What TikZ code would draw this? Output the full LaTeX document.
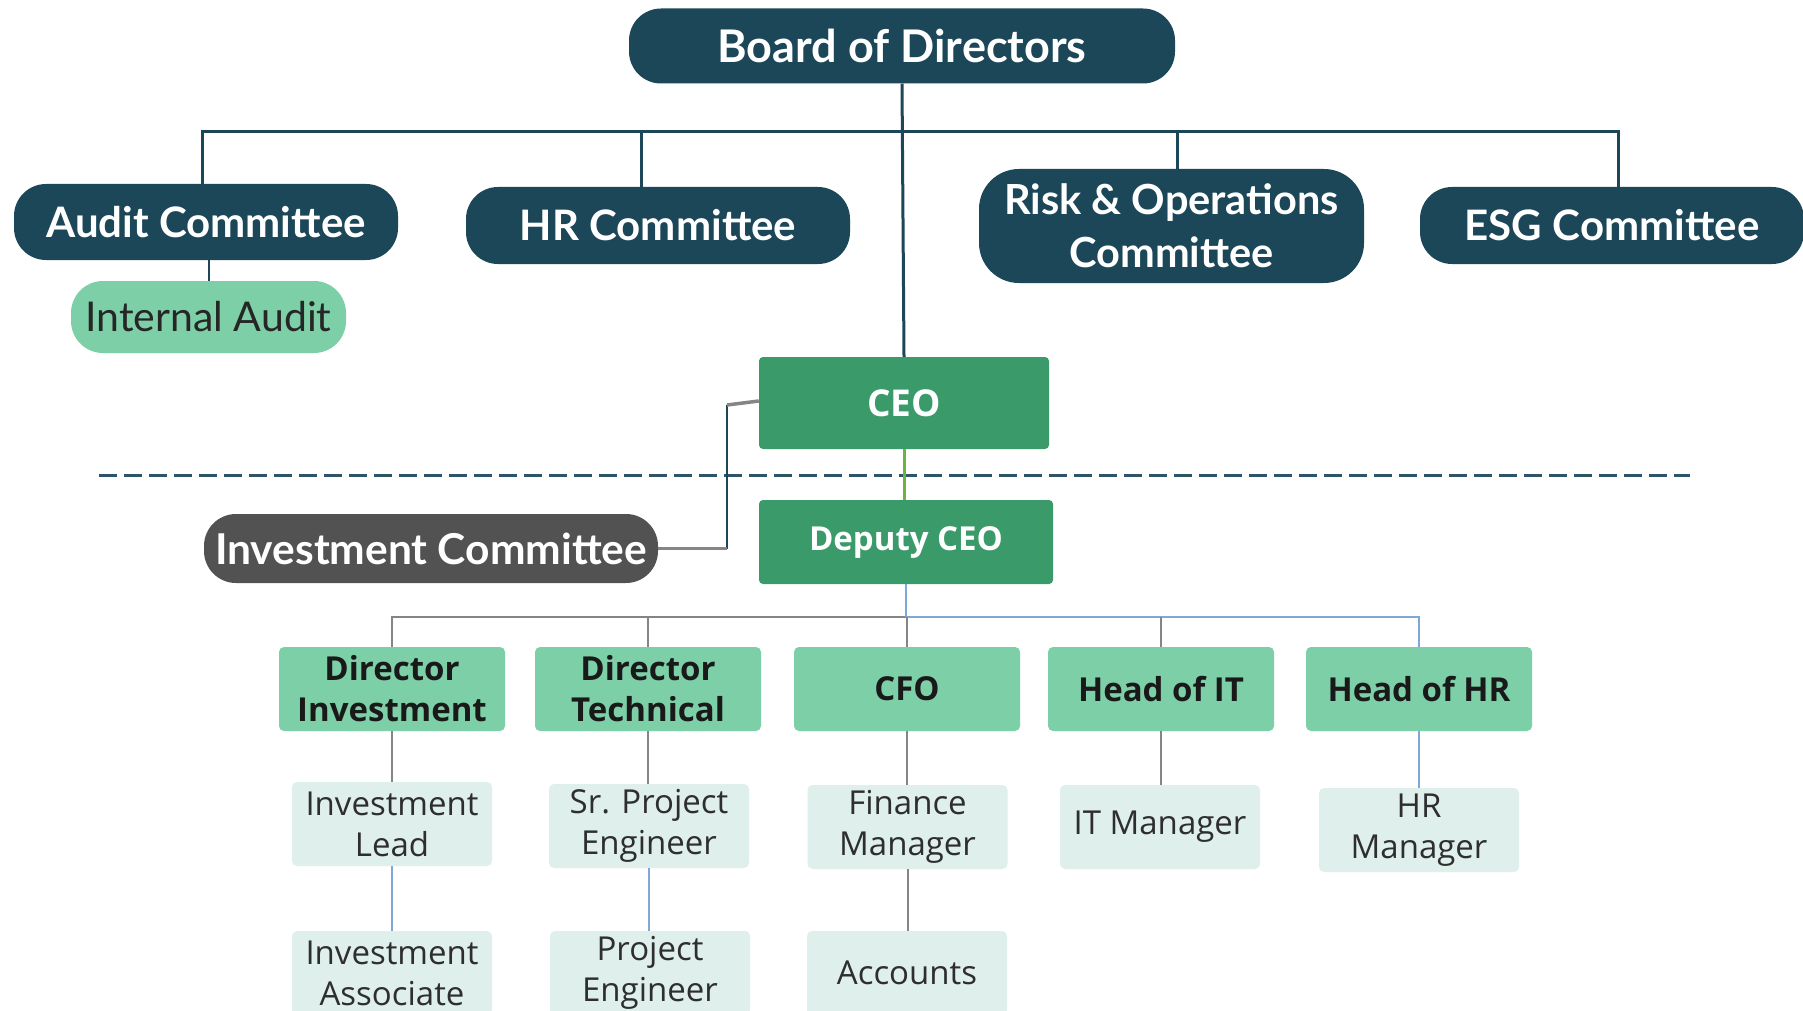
\documentclass[tikz,border=0pt]{standalone}
\usepackage{fontspec}
\setmainfont{Open Sans}
\newfontfamily\topfont{Lato}
\definecolor{navy}{HTML}{1B4759}
\definecolor{ceogreen}{HTML}{3A9A6A}
\definecolor{lgreen}{HTML}{7DCFA7}
\definecolor{pale}{HTML}{DFEFEC}
\definecolor{icgray}{HTML}{525252}
\definecolor{linegray}{HTML}{858585}
\definecolor{lineblue}{HTML}{7FA7D8}
\definecolor{dashcol}{HTML}{2D5468}
\definecolor{linkgreen}{HTML}{6DB33F}
\begin{document}
\begin{tikzpicture}[x=1pt,y=-1pt,
  pill/.style={fill=navy, text=white, rounded corners=32pt, align=center, inner sep=0pt,
    font=\topfont\bfseries\fontsize{42}{53}\selectfont},
  execbox/.style={fill=ceogreen, text=white, rounded corners=4pt, inner sep=0pt,
    font=\bfseries\fontsize{33}{40}\selectfont},
  headbox/.style={fill=lgreen, text=black!90, rounded corners=5pt, align=center, inner sep=0pt,
    minimum width=226, minimum height=84, font=\bfseries\fontsize{33}{41}\selectfont},
  staffbox/.style={fill=pale, text=black!82, rounded corners=5pt, align=center, inner sep=0pt,
    minimum width=200, minimum height=84, font=\fontsize{33}{41}\selectfont},
  grayline/.style={draw=linegray, line width=2pt},
  blueline/.style={draw=lineblue, line width=2pt},
  navyline/.style={draw=navy, line width=3pt}
]
\useasboundingbox (0,0) rectangle (1803,1011);
\fill[white] (0,0) rectangle (1803,1011);

% Board level
\node[pill, minimum width=546, minimum height=75, font=\topfont\bfseries\fontsize{45}{53}\selectfont] (board) at (902,46) {Board of Directors};
\node[pill, minimum width=384, minimum height=76] (audit) at (206,222) {Audit Committee};
\node[pill, minimum width=384, minimum height=77] (hrc) at (658,225.5) {HR Committee};
\node[pill, minimum width=385, minimum height=114, rounded corners=40pt, font=\topfont\bfseries\fontsize{41.5}{53}\selectfont] (risk) at (1171.5,226) {Risk \& Operations\\Committee};
\node[pill, minimum width=384, minimum height=77] (esg) at (1612,225.5) {ESG Committee};
\node[pill, fill=lgreen, text=black!85, minimum width=275, minimum height=72,
  font=\topfont\fontsize{41}{48}\selectfont] (intaudit) at (208.5,317) {Internal Audit};

% Executive
\node[execbox, minimum width=290, minimum height=92, font=\bfseries\fontsize{37}{40}\selectfont] (ceo) at (904,403) {CEO};
\node[execbox, minimum width=294, minimum height=84] (dep) at (906,542) {Deputy CEO};
\node[pill, fill=icgray, minimum width=454, minimum height=69, font=\topfont\bfseries\fontsize{42.5}{50}\selectfont] (ic) at (431,548.5) {Investment Committee};

% Heads
\node[headbox] (dinv) at (392,689) {Director\\Investment};
\node[headbox] (dtech) at (648,689) {Director\\Technical};
\node[headbox] (cfo) at (907,689) {CFO};
\node[headbox] (hit) at (1161,689) {Head of IT};
\node[headbox] (hhr) at (1419,689) {Head of HR};

% Staff
\node[staffbox] (ilead) at (392,824) {Investment\\Lead};
\node[staffbox] (spe) at (649,826) {Sr. Project\\Engineer};
\node[staffbox] (fm) at (907.5,827) {Finance\\Manager};
\node[staffbox] (itm) at (1160,827) {IT Manager};
\node[staffbox] (hrm) at (1419,830) {HR\\Manager};
\node[staffbox] (iassoc) at (392,973) {Investment\\Associate};
\node[staffbox] (pe) at (650,973) {Project\\Engineer};
\node[staffbox] (acc) at (907,973) {Accounts};

% Dashed separator
\draw[dashcol, line width=3pt, dash pattern=on 18pt off 7pt] (99,475) -- (1690,475);

% Board connectors
\coordinate (bus) at (902,132);
\draw[navyline] ([xshift=-4pt]audit.north) |- (bus) -| ([xshift=6pt]esg.north);
\draw[navyline] ([xshift=-17pt]hrc.north) -- ([xshift=-17pt]hrc.north |- bus);
\draw[navyline] ([xshift=6pt]risk.north) -- ([xshift=6pt]risk.north |- bus);
\draw[navyline] (board.south) -- (ceo.north);
\draw[navy, line width=2pt] (intaudit.north) -- (intaudit.north |- audit.south);

% CEO - Deputy
\draw[linkgreen, line width=3pt] (ceo.south) -- (ceo.south |- dep.north);

% CEO - Investment Committee
\coordinate (icj) at (727,405);
\draw[navy, line width=2pt] (icj) -- (icj |- ic.east);
\draw[linegray, line width=3.5pt] ([yshift=2pt]ceo.west) -- (icj);
\draw[linegray, line width=3.5pt] (ic.east) -- (icj |- ic.east);

% Lower bus
\coordinate (lbus) at (906,617);
\draw[grayline] (dinv.north) |- (lbus);
\draw[blueline] (lbus) -| (hhr.north);
\draw[blueline] (dep.south) -- (lbus);
\draw[grayline] (dtech.north) -- (dtech.north |- lbus);
\draw[grayline] (cfo.north) -- (cfo.north |- lbus);
\draw[grayline] (hit.north) -- (hit.north |- lbus);

% Heads to staff
\draw[grayline] (dinv.south) -- (ilead.north);
\draw[blueline] (ilead.south) -- (iassoc.north);
\draw[grayline] (dtech.south) -- (dtech.south |- spe.north);
\draw[blueline] (spe.south) -- (spe.south |- pe.north);
\draw[grayline] (cfo.south) -- (cfo.south |- fm.north);
\draw[grayline] (fm.south) -- (fm.south |- acc.north);
\draw[grayline] (hit.south) -- (hit.south |- itm.north);
\draw[blueline] (hhr.south) -- (hhr.south |- hrm.north);
\end{tikzpicture}
\end{document}
